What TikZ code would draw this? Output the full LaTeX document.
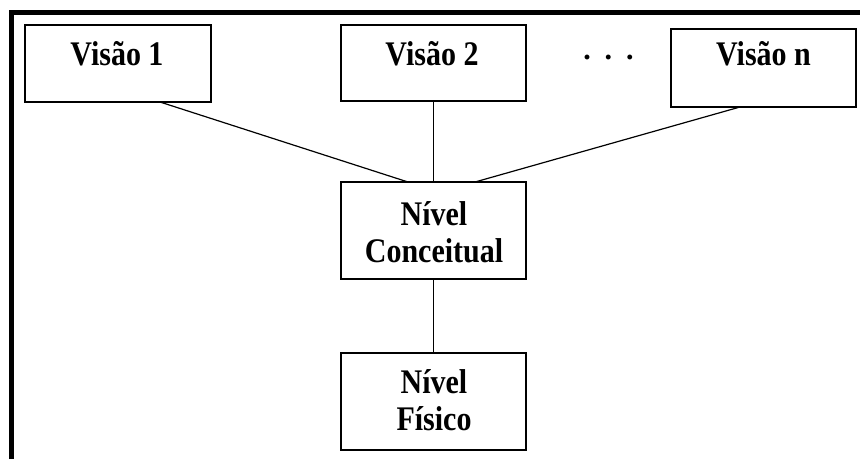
\documentclass[tikz,border=0pt]{standalone}
\usepackage{fontspec}
\setmainfont{Liberation Serif}
\usepackage{graphicx}
\begin{document}
\begin{tikzpicture}[x=1pt, y=-1pt,
  box/.style={draw, line width=1.4pt, rectangle, inner sep=0pt, outer sep=0pt},
  lbl/.style={font=\bfseries\fontsize{30}{37}\selectfont, inner sep=0pt, align=center},
  link/.style={line width=1.2pt}]
  \useasboundingbox (0,0) rectangle (860,459);
  % frame
  \draw[line width=5pt] (11,459) -- (11,12.5) -- (860,12.5);
  % boxes
  \node[box, minimum width=186, minimum height=77] (v1) at (118,63.5) {};
  \node[box, minimum width=185, minimum height=76] (v2) at (433.5,63) {};
  \node[box, minimum width=185, minimum height=78] (vn) at (763.5,68) {};
  \node[box, minimum width=185, minimum height=97] (nc) at (433.5,230.5) {};
  \node[box, minimum width=185, minimum height=97] (nf) at (433.5,401.5) {};
  % labels
  \node[lbl, anchor=base] (t1) at (117,65) {\scalebox{1}[1.15]{Visão 1}};
  \node[lbl, anchor=base] (t2) at (432,65) {\scalebox{1}[1.15]{Visão 2}};
  \node[lbl, anchor=base] (tn) at (763.5,65) {\scalebox{1}[1.15]{Visão n}};
  \node[lbl, anchor=base] (dots) at (608.5,59) {.\hspace{14pt}.\hspace{14pt}.};
  \node[lbl, anchor=base] (tc1) at (434,225) {\scalebox{1}[1.15]{Nível}};
  \node[lbl, anchor=base] (tc2) at (434,262) {\scalebox{1}[1.15]{Conceitual}};
  \node[lbl, anchor=base] (tf1) at (434,393) {\scalebox{1}[1.15]{Nível}};
  \node[lbl, anchor=base] (tf2) at (434,430) {\scalebox{1}[1.15]{Físico}};
  % connectors
  \draw[link] ([xshift=42pt]v1.south) -- ([xshift=-25.5pt]nc.north);
  \draw[link] (v2.south) -- (nc.north);
  \draw[link] ([xshift=-23.5pt]vn.south) -- ([xshift=41.5pt]nc.north);
  \draw[link] (nc.south) -- (nf.north);
\end{tikzpicture}
\end{document}
